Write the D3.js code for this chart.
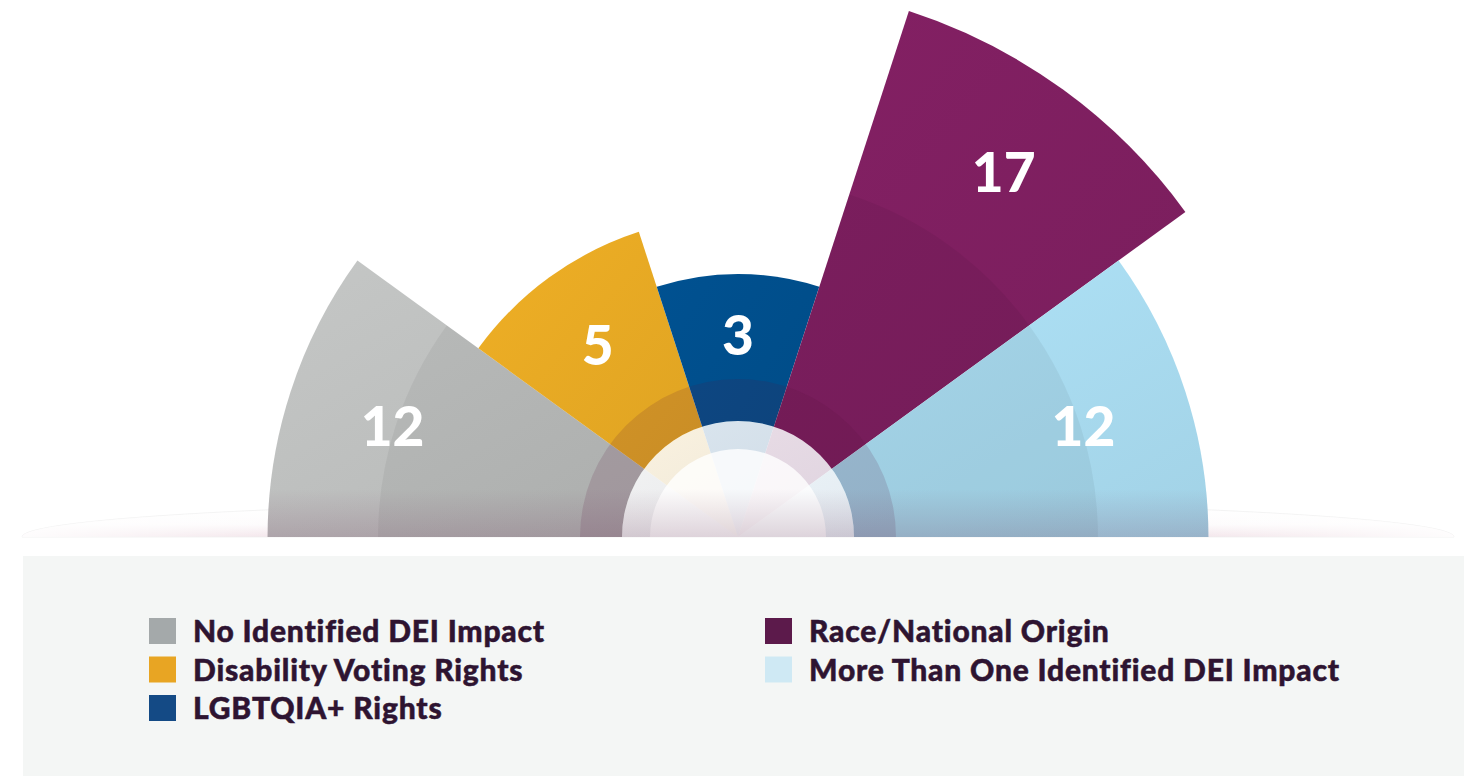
<!DOCTYPE html>
<html>
<head>
<meta charset="utf-8">
<script src="https://cdn.jsdelivr.net/npm/d3@7"></script>
<style>
  html, body { margin: 0; padding: 0; background: #fff; }
  svg { display: block; font-family: Lato, "Noto Sans", sans-serif; }
</style>
</head>
<body>
<div id="chart"></div>
<script>
const categories = [
  "No Identified DEI Impact",
  "Disability Voting Rights",
  "LGBTQIA+ Rights",
  "Race/National Origin",
  "More Than One Identified DEI Impact"
];
const values = [12, 5, 3, 17, 12];
const wedgeColors = ["#bdbfbe", "#e5a823", "#004e8b", "#7e1f60", "#a9dbf0"];
const legendColors = ["#a4a9aa", "#e8a523", "#144a85", "#5c1a4b", "#cfe9f4"];

const width = 1480, height = 776;
const cx = 738, cy = 537;

const data = categories.map((c, i) => ({ cat: c, value: values[i], color: wedgeColors[i], legend: legendColors[i], i }));

const svg = d3.select('#chart').append('svg')
  .attr('width', width)
  .attr('height', height);

const defs = svg.append('defs');

// angular band: left half (gray) -> right half (light blue)
const x = d3.scaleBand()
  .domain(categories)
  .range([-Math.PI / 2, Math.PI / 2]);

const r = d3.scaleRadial()
  .domain([0, d3.max(values)])
  .range([136, 553]);

const labelR = d3.scaleLinear()
  .domain([0, d3.max(values)])
  .range([150, 452]);

const arc = d3.arc()
  .innerRadius(0)
  .outerRadius(d => r(d.value))
  .startAngle(d => x(d.cat))
  .endAngle(d => x(d.cat) + x.bandwidth());

// floor gradients
const floorGrad = defs.append('linearGradient').attr('id', 'floor')
  .attr('x1', 0).attr('y1', 0).attr('x2', 0).attr('y2', 1);
floorGrad.append('stop').attr('offset', 0).attr('stop-color', '#fff').attr('stop-opacity', 0);
floorGrad.append('stop').attr('offset', 0.65).attr('stop-color', '#fdfbfc');
floorGrad.append('stop').attr('offset', 1).attr('stop-color', '#f2e3e9');

const floorFade = defs.append('linearGradient').attr('id', 'floorFade')
  .attr('x1', 0).attr('y1', 0).attr('x2', 1).attr('y2', 0);
floorFade.append('stop').attr('offset', 0).attr('stop-color', '#fff').attr('stop-opacity', 0.9);
floorFade.append('stop').attr('offset', 0.2).attr('stop-color', '#fff').attr('stop-opacity', 0);
floorFade.append('stop').attr('offset', 0.8).attr('stop-color', '#fff').attr('stop-opacity', 0);
floorFade.append('stop').attr('offset', 1).attr('stop-color', '#fff').attr('stop-opacity', 0.9);

const g = svg.append('g').attr('transform', `translate(${cx},${cy})`);

// floor ellipse behind the wedges
const floorPath = `M${-716},0 A716,36 0 0 1 ${716},0 Z`;
g.append('path')
  .attr('d', floorPath)
  .attr('fill', 'url(#floor)')
  .attr('stroke', '#ececec')
  .attr('stroke-width', 0.7);
g.append('path')
  .attr('d', floorPath)
  .attr('fill', 'url(#floorFade)');

// per-wedge gradients
data.forEach(d => {
  const lg = defs.append('linearGradient').attr('id', 'wg' + d.i)
    .attr('x1', 0).attr('y1', 0).attr('x2', 1).attr('y2', 1);
  lg.append('stop').attr('offset', 0).attr('stop-color', d3.color(d.color).brighter(0.12));
  lg.append('stop').attr('offset', 1).attr('stop-color', d3.color(d.color).darker(0.12));
});

const clip = defs.append('clipPath').attr('id', 'wedgeClip');
clip.selectAll('path').data(data).join('path').attr('d', arc);

g.append('g').selectAll('path')
  .data(data)
  .join('path')
  .attr('d', arc)
  .attr('fill', d => `url(#wg${d.i})`);

// inner shading of the longer wedges
const shadeR = 360;
g.append('g').selectAll('path')
  .data(data.filter(d => r(d.value) > shadeR))
  .join('path')
  .attr('d', d3.arc().innerRadius(0).outerRadius(shadeR)
    .startAngle(d => x(d.cat)).endAngle(d => x(d.cat) + x.bandwidth()))
  .attr('fill', '#000')
  .attr('fill-opacity', 0.05);

// mauve shadow toward the floor
const bottomGrad = defs.append('linearGradient').attr('id', 'bottomShade')
  .attr('x1', 0).attr('y1', 0).attr('x2', 0).attr('y2', 1);
bottomGrad.append('stop').attr('offset', 0).attr('stop-color', '#784664').attr('stop-opacity', 0);
bottomGrad.append('stop').attr('offset', 1).attr('stop-color', '#784664').attr('stop-opacity', 0.22);

svg.append('g').attr('clip-path', 'url(#wedgeClip)')
  .attr('transform', `translate(${cx},${cy})`)
  .append('rect')
  .attr('x', -600).attr('y', -48).attr('width', 1200).attr('height', 48)
  .attr('fill', 'url(#bottomShade)');

// dark ring around the hub
g.append('path')
  .attr('d', d3.arc().innerRadius(116).outerRadius(158).startAngle(-Math.PI / 2).endAngle(Math.PI / 2)())
  .attr('fill', '#5a143c')
  .attr('fill-opacity', 0.15);

// white hub
const hubGrad = defs.append('linearGradient').attr('id', 'hub')
  .attr('x1', 0).attr('y1', 0).attr('x2', 1).attr('y2', 1);
hubGrad.append('stop').attr('offset', 0).attr('stop-color', '#fff');
hubGrad.append('stop').attr('offset', 1).attr('stop-color', '#eef0f4');

g.append('path')
  .attr('d', d3.arc().innerRadius(0).outerRadius(116).startAngle(-Math.PI / 2).endAngle(Math.PI / 2)())
  .attr('fill', 'url(#hub)')
  .attr('fill-opacity', 0.86);
g.append('path')
  .attr('d', d3.arc().innerRadius(0).outerRadius(88).startAngle(-Math.PI / 2).endAngle(Math.PI / 2)())
  .attr('fill', '#fff')
  .attr('fill-opacity', 0.8);

// value labels
g.append('g').selectAll('text')
  .data(data)
  .join('text')
  .attr('x', d => labelR(d.value) * Math.sin(x(d.cat) + x.bandwidth() / 2))
  .attr('y', d => -labelR(d.value) * Math.cos(x(d.cat) + x.bandwidth() / 2))
  .attr('text-anchor', 'middle')
  .attr('dominant-baseline', 'central')
  .attr('fill', '#fff')
  .attr('font-size', 55)
  .attr('font-weight', 900)
  .text(d => d.value);

// legend panel
svg.append('rect')
  .attr('x', 23).attr('y', 556)
  .attr('width', 1441).attr('height', height - 556)
  .attr('fill', '#f4f6f5');

const legend = svg.append('g').selectAll('g')
  .data(data)
  .join('g')
  .attr('transform', d => {
    const col = d.i < 3 ? 0 : 1;
    const row = d.i < 3 ? d.i : d.i - 3;
    return `translate(${col ? 765 : 149},${618 + row * 38.5})`;
  });

legend.append('rect')
  .attr('width', 27).attr('height', 26)
  .attr('fill', d => d.legend);

legend.append('text')
  .attr('x', 44)
  .attr('y', 24)
  .attr('fill', '#2e1431')
  .attr('stroke', '#2e1431')
  .attr('stroke-width', 0.5)
  .attr('font-size', 30)
  .attr('font-weight', 900)
  .attr('letter-spacing', 0.8)
  .text(d => d.cat);
</script>
</body>
</html>
